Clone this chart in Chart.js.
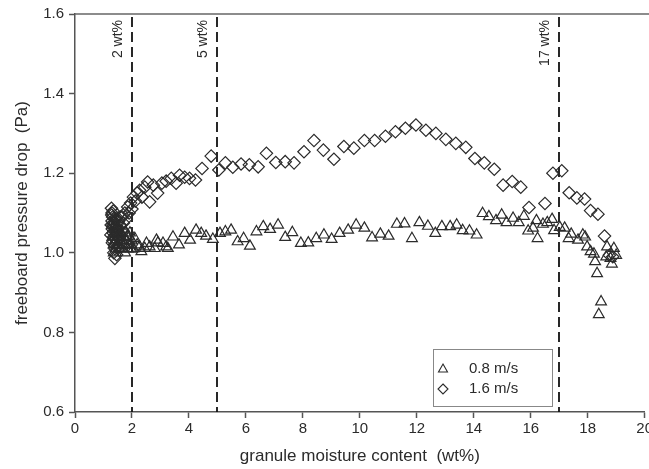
<!DOCTYPE html>
<html>
<head>
<meta charset="utf-8">
<script src="https://cdn.jsdelivr.net/npm/chart.js@4/dist/chart.umd.min.js"></script>
<style>
html,body{margin:0;padding:0;background:#fff;overflow:hidden;}
#wrap{width:649px;height:469px;overflow:hidden;position:relative;}
canvas{display:block;}
</style>
</head>
<body>
<div id="wrap"><canvas id="c" width="655" height="469"></canvas></div>
<script>
// ---- data ----
const seriesLabels = ["0.8 m/s", "1.6 m/s"];
const xTickValues = [0, 2, 4, 6, 8, 10, 12, 14, 16, 18, 20];
const yTickValues = [0.6, 0.8, 1.0, 1.2, 1.4, 1.6];
const markerLines = [2, 5, 17];
const markerLabels = ["2 wt%", "5 wt%", "17 wt%"];

const x08 = [1.30,1.32,1.34,1.35,1.37,1.38,1.40,1.42,1.44,1.46,1.48,1.50,1.52,1.55,1.58,1.60,1.63,1.66,1.70,1.74,1.78,1.82,1.86,1.90,1.95,2.00,2.05,
             1.36,1.41,1.47,1.53,1.57,1.62,1.68,1.72,1.76,1.84,1.88,1.93,1.98,
             2.10,2.18,2.27,2.33,2.45,2.51,2.62,2.80,2.86,2.91,3.09,3.20,3.26,3.44,3.65,3.85,4.04,4.25,4.43,4.60,4.84,5.09,5.28,5.48,5.71,5.92,6.14,6.37,6.61,6.85,7.13,7.38,7.63,7.93,8.19,8.47,8.74,9.01,9.29,9.59,9.87,10.16,10.43,10.72,11.01,11.30,11.57,11.83,12.09,12.39,12.65,12.88,13.17,13.40,13.61,13.85,14.10,14.31,14.53,14.78,14.98,15.15,15.38,15.58,15.76,15.91,16.08,16.20,16.24,16.43,16.58,16.75,16.82,17.02,17.19,17.33,17.42,17.66,17.83,17.91,17.98,18.10,18.22,18.26,18.33,18.39,18.47,18.65,18.68,18.80,18.85,18.92,19.00];
const y08 = [1.07,1.04,1.06,1.02,1.08,1.05,1.03,1.07,1.01,1.05,1.04,1.06,1.02,1.04,1.03,1.05,1.01,1.03,1.04,1.02,1.05,1.03,1.01,1.04,1.02,1.03,1.01,
             1.00,1.06,1.02,1.05,1.01,1.04,1.02,1.06,1.00,1.04,1.02,1.05,1.01,
             1.036,1.02,1.015,1.003,1.011,1.024,1.015,1.011,1.032,1.025,1.024,1.015,1.011,1.040,1.020,1.049,1.032,1.057,1.049,1.042,1.034,1.049,1.053,1.057,1.028,1.036,1.017,1.053,1.066,1.059,1.070,1.039,1.051,1.024,1.025,1.036,1.045,1.034,1.049,1.057,1.070,1.062,1.038,1.047,1.042,1.072,1.073,1.036,1.076,1.067,1.049,1.066,1.066,1.070,1.056,1.055,1.045,1.099,1.091,1.081,1.095,1.076,1.087,1.076,1.092,1.055,1.062,1.081,1.036,1.072,1.076,1.084,1.056,1.064,1.062,1.036,1.047,1.032,1.045,1.040,1.015,1.003,0.997,0.978,0.948,0.845,0.877,0.990,1.015,0.986,0.972,1.011,0.994];

const x16 = [1.28,1.30,1.32,1.30,1.33,1.31,1.34,1.36,1.33,1.38,1.40,1.36,1.40,1.46,1.50,1.48,1.45,1.55,1.58,1.62,1.66,1.70,1.75,1.80,1.85,1.90,1.95,2.00,
             1.29,1.35,1.38,1.42,1.44,1.47,1.52,1.26,1.31,1.39,1.43,1.53,1.60,1.27,1.34,
             2.05,2.12,2.18,2.27,2.35,2.45,2.55,2.62,2.75,2.90,3.05,3.20,3.38,3.55,3.67,3.85,4.02,4.23,4.46,4.78,5.05,5.28,5.54,5.83,6.12,6.43,6.72,7.05,7.38,7.69,8.04,8.39,8.72,9.09,9.44,9.79,10.16,10.52,10.90,11.25,11.60,11.97,12.32,12.67,13.02,13.37,13.72,14.04,14.37,14.72,15.03,15.35,15.65,15.94,16.50,16.78,17.09,17.35,17.62,17.89,18.10,18.36,18.59,18.76,18.88];
const y16 = [1.112,1.10,1.09,1.08,1.07,1.06,1.05,1.04,1.03,1.02,1.01,1.00,0.986,0.995,1.03,1.06,1.085,1.045,1.07,1.055,1.09,1.075,1.10,1.085,1.115,1.10,1.125,1.11,
             1.095,1.075,1.055,1.035,1.065,1.025,1.015,1.045,1.025,1.085,1.045,1.08,1.09,1.07,1.105,
             1.14,1.13,1.15,1.157,1.14,1.165,1.178,1.128,1.17,1.15,1.175,1.18,1.187,1.175,1.195,1.19,1.187,1.183,1.212,1.243,1.208,1.226,1.215,1.223,1.221,1.216,1.250,1.227,1.229,1.226,1.254,1.282,1.258,1.235,1.267,1.263,1.282,1.282,1.293,1.304,1.313,1.321,1.308,1.300,1.285,1.275,1.265,1.237,1.226,1.210,1.170,1.179,1.165,1.114,1.124,1.200,1.206,1.151,1.138,1.135,1.106,1.097,1.042,0.994,0.990];

const pts = (xs, ys) => xs.map((x, i) => ({x: x, y: ys[i]}));
const FONT = "'Liberation Sans', Arial, sans-serif";
const INK = '#2b2b2b';

const overlays = {
  id: 'overlays',
  beforeDatasetsDraw(chart) {
    const ctx = chart.ctx, a = chart.chartArea, xs = chart.scales.x;
    ctx.save();
    ctx.strokeStyle = '#666';
    ctx.lineWidth = 1.5;
    ctx.beginPath();
    ctx.moveTo(a.left, a.top);
    ctx.lineTo(a.right + 10, a.top);
    ctx.stroke();
    ctx.strokeStyle = '#111';
    ctx.lineWidth = 1.8;
    ctx.setLineDash([10, 5]);
    markerLines.forEach((v) => {
      const px = Math.round(xs.getPixelForValue(v));
      ctx.beginPath();
      ctx.moveTo(px, a.top + 3);
      ctx.lineTo(px, a.bottom);
      ctx.stroke();
    });
    ctx.setLineDash([]);
    ctx.fillStyle = INK;
    ctx.font = '14px ' + FONT;
    ctx.textAlign = 'right';
    ctx.textBaseline = 'middle';
    markerLines.forEach((v, i) => {
      const px = xs.getPixelForValue(v);
      ctx.save();
      ctx.translate(px - 14, a.top + 6);
      ctx.rotate(-Math.PI / 2);
      ctx.fillText(markerLabels[i], 0, 0);
      ctx.restore();
    });
    ctx.restore();
  },
  afterDraw(chart) {
    const ctx = chart.ctx;
    ctx.save();
    const bx = 433, by = 349, bw = 119, bh = 57;
    ctx.strokeStyle = '#888';
    ctx.lineWidth = 1;
    ctx.strokeRect(bx + 0.5, by + 0.5, bw, bh);
    ctx.strokeStyle = INK;
    ctx.lineWidth = 1.1;
    let cx = 443, cy = 369, r = 5;
    ctx.beginPath();
    ctx.moveTo(cx, cy - r);
    ctx.lineTo(cx + r * 0.9, cy + r * 0.6);
    ctx.lineTo(cx - r * 0.9, cy + r * 0.6);
    ctx.closePath();
    ctx.stroke();
    cx = 443; cy = 389; r = 5;
    ctx.beginPath();
    ctx.moveTo(cx, cy - r);
    ctx.lineTo(cx + r, cy);
    ctx.lineTo(cx, cy + r);
    ctx.lineTo(cx - r, cy);
    ctx.closePath();
    ctx.stroke();
    ctx.fillStyle = INK;
    ctx.font = '15px ' + FONT;
    ctx.textAlign = 'left';
    ctx.textBaseline = 'middle';
    ctx.fillText(chart.data.datasets[0].label, 469, 369);
    ctx.fillText(chart.data.datasets[1].label, 469, 389);
    ctx.restore();
  }
};

new Chart(document.getElementById('c'), {
  type: 'scatter',
  data: {
    datasets: [
      {label: seriesLabels[0], data: pts(x08, y08), pointStyle: 'triangle', pointRadius: 6.2,
       borderColor: INK, backgroundColor: 'rgba(0,0,0,0)', borderWidth: 1.2, pointHoverRadius: 6.2},
      {label: seriesLabels[1], data: pts(x16, y16), pointStyle: 'rectRot', pointRadius: 6.2,
       borderColor: INK, backgroundColor: 'rgba(0,0,0,0)', borderWidth: 1.2, pointHoverRadius: 6.2}
    ]
  },
  options: {
    responsive: false,
    animation: false,
    devicePixelRatio: 1,
    layout: {padding: {top: 14, left: 0, right: 0, bottom: 0}},
    plugins: {legend: {display: false}, tooltip: {enabled: false}},
    scales: {
      x: {
        type: 'linear', min: 0, max: 20,
        afterBuildTicks: s => { s.ticks = xTickValues.map(v => ({value: v})); },
        afterFit: s => { s.height = 57; },
        grid: {drawOnChartArea: false, drawTicks: true, tickLength: 6, color: '#555', tickWidth: 1.5},
        border: {display: true, color: '#555', width: 1.5},
        ticks: {color: INK, font: {size: 15, family: FONT}, padding: 2, maxRotation: 0},
        title: {display: true, text: 'granule moisture content  (wt%)', color: INK,
                font: {size: 17, family: FONT}, padding: {top: 0, bottom: 2}}
      },
      y: {
        type: 'linear', min: 0.6, max: 1.6,
        afterBuildTicks: s => { s.ticks = yTickValues.map(v => ({value: v})); },
        afterFit: s => { s.width = 75; },
        grid: {drawOnChartArea: false, drawTicks: true, tickLength: 6, color: '#555', tickWidth: 1.5},
        border: {display: true, color: '#555', width: 1.5},
        ticks: {color: INK, font: {size: 15, family: FONT}, padding: 5,
                callback: v => Number(v).toFixed(1)},
        title: {display: true, text: 'freeboard pressure drop  (Pa)', color: INK,
                font: {size: 17, family: FONT}, padding: {top: 12, bottom: 0}}
      }
    }
  },
  plugins: [overlays]
});
</script>
</body>
</html>
